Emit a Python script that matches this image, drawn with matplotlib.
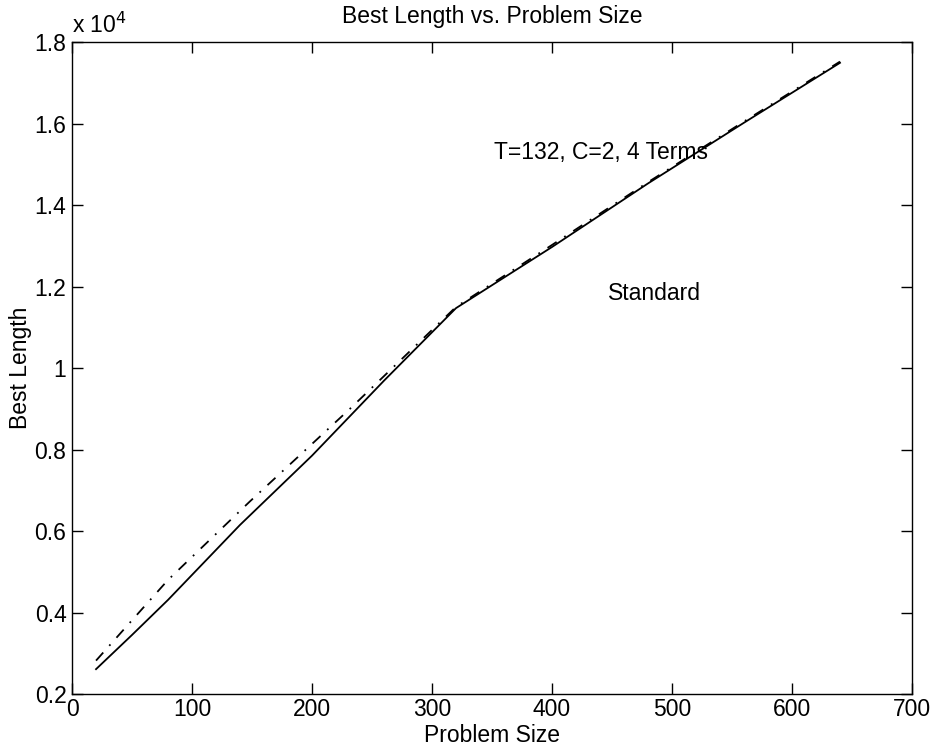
import matplotlib
matplotlib.use("Agg")
import matplotlib.pyplot as plt
from matplotlib.ticker import FuncFormatter, MultipleLocator

plt.rcParams['font.family'] = ['Liberation Sans', 'DejaVu Sans']

# Data
sizes_std = [20, 50, 80, 140, 200, 260, 320, 400, 480, 560, 640]
best_std = [2610, 3450, 4310, 6150, 7850, 9690, 11470, 12970, 14530, 16020, 17490]
sizes_t = [20, 80, 148, 232, 320, 400, 480, 560, 640]
best_t = [2820, 4800, 6720, 9010, 11500, 13020, 14560, 16050, 17520]

title = "Best Length vs. Problem Size"
xlabel = "Problem Size"
ylabel = "Best Length"
label_t = "T=132, C=2, 4 Terms"
label_std = "Standard"

FS = 16.5

fig = plt.figure(figsize=(9.33, 7.49), dpi=100)
ax = fig.add_axes([0.0772, 0.0734, 0.9003, 0.8705])

ax.plot(sizes_std, best_std, color='black', lw=1.3, linestyle='-')
ax.plot(sizes_t, best_t, color='black', lw=1.3, linestyle=(0, (6, 5, 1, 5)))

ax.set_xlim(0, 700)
ax.set_ylim(2000, 18000)
ax.xaxis.set_major_locator(MultipleLocator(100))
ax.yaxis.set_major_locator(MultipleLocator(2000))
ax.yaxis.set_major_formatter(FuncFormatter(lambda v, p: f"{v/1e4:g}"))

ax.tick_params(direction='in', top=True, right=True, length=8, width=1,
               labelsize=FS, pad=4)
ax.tick_params(axis='x', pad=3)
for s in ax.spines.values():
    s.set_linewidth(1)

ax.set_title(title, fontsize=FS, pad=14)
ax.set_xlabel(xlabel, fontsize=FS, labelpad=2)
ax.set_ylabel(ylabel, fontsize=FS, labelpad=2)

ax.text(0.0, 1.006, r"x 10$^{4}$", transform=ax.transAxes, fontsize=FS,
        ha='left', va='bottom')

ax.text(352, 15280, label_t, fontsize=FS, ha='left', va='center')
ax.text(447, 11840, label_std, fontsize=FS, ha='left', va='center')

fig.savefig("out.png", dpi=100)
